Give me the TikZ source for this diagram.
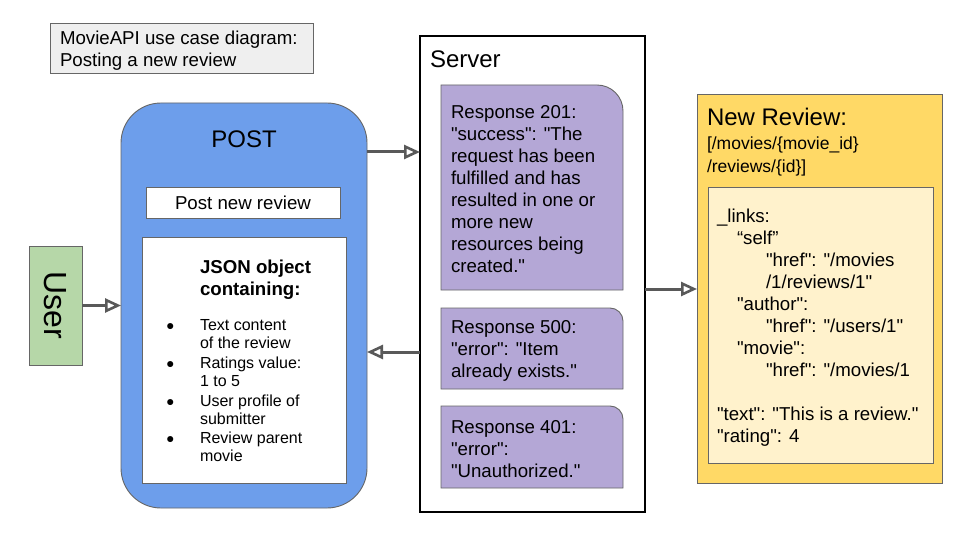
\documentclass[tikz,border=0pt]{standalone}
\usepackage{fontspec}
\setmainfont{Liberation Sans}[Ligatures=TeXOff]
\usetikzlibrary{arrows.meta}
\definecolor{titlefill}{HTML}{EFEFEF}
\definecolor{postblue}{HTML}{6D9EEB}
\definecolor{usergreen}{HTML}{B6D7A8}
\definecolor{resppurple}{HTML}{B4A7D6}
\definecolor{revyellow}{HTML}{FFD966}
\definecolor{revlight}{HTML}{FFF2CC}
\definecolor{edgegray}{HTML}{595959}
\definecolor{bordergray}{HTML}{666666}
\newcommand{\blt}{\makebox[34pt][l]{\raisebox{0pt}{\fontsize{14}{14}\selectfont ●}}}
\begin{document}
\begin{tikzpicture}[x=1pt,y=-1pt,
  box/.style={draw=bordergray, line width=0.9pt, inner sep=0pt, outer sep=0pt, anchor=north west},
  blank/.style={inner sep=0pt, outer sep=0pt, anchor=north west},
  txt/.style={inner sep=0pt, outer sep=0pt, anchor=base west, align=left},
  conn/.style={draw=edgegray, line width=3pt, -{Triangle[length=16pt,width=14pt,fill=white,line width=2.6pt]}},
  respfill/.style={draw=bordergray, line width=0.9pt, fill=resppurple},
  fbody/.style={font=\fontsize{18.67}{22}\selectfont},
  fbig/.style={font=\fontsize{24}{28}\selectfont},
  flist/.style={font=\fontsize{16}{18}\selectfont}
]
\useasboundingbox[fill=white] (0,0) rectangle (960,540);

% title (multi-line text nodes are placed by the baseline of their last line)
\node[box, fill=titlefill, minimum width=263pt, minimum height=50pt] (title) at (50,23) {};
\node[txt, fbody] (titletext) at (60,67) {MovieAPI use case diagram:\\Posting a new review};

% user
\node[box, fill=usergreen, minimum width=53pt, minimum height=119pt] (user) at (29,246) {};
\node[rotate=-90, inner sep=0pt, font=\fontsize{32}{36}\selectfont] (usertext) at (user.center) {User};

% POST
\node[box, fill=postblue, rounded corners=40pt, minimum width=246pt, minimum height=405pt] (post) at (121,103) {};
\node[inner sep=0pt, anchor=base, fbig] (posttext) at (244,148) {POST};
\node[box, fill=white, minimum width=194pt, minimum height=31pt, fbody] (postnew) at (146,187) {Post new review};
\node[box, fill=white, minimum width=204pt, minimum height=246pt] (json) at (142,237) {};
\node[txt, font=\fontsize{18.67}{22}\selectfont\bfseries] (jsonhead) at (200,295) {JSON object\\containing:};
\node[txt, flist] (jsonlist) at (166,461) {%
\blt Text content\\\hspace*{34pt}of the review\\[2pt]
\blt Ratings value:\\\hspace*{34pt}1 to 5\\[2pt]
\blt User profile of\\\hspace*{34pt}submitter\\[1pt]
\blt Review parent\\\hspace*{34pt}movie};

% Server
\node[draw=black, line width=1.3pt, fill=white, blank, minimum width=225pt, minimum height=476pt] (server) at (420,36) {};
\node[txt, fbig] (servertext) at (430,68) {Server};

\node[blank, minimum width=182pt, minimum height=205pt] (r201) at (441,85) {};
\path[respfill] (r201.south west) -- (r201.north west) -- ([xshift=-26pt]r201.north east)
  .. controls ([xshift=-11.6pt]r201.north east) and ([yshift=-11.6pt]r201.north east) .. ([yshift=-26pt]r201.north east)
  -- (r201.south east) -- cycle;
\node[txt, fbody] (r201text) at (451,272) {Response 201:\\"success": "The\\request has been\\fulfilled and has\\resulted in one or\\more new\\resources being\\created."};

\node[blank, minimum width=182pt, minimum height=81pt] (r500) at (441,308) {};
\path[respfill] (r500.south west) -- (r500.north west) -- ([xshift=-13pt]r500.north east)
  .. controls ([xshift=-5.8pt]r500.north east) and ([yshift=-5.8pt]r500.north east) .. ([yshift=-13pt]r500.north east)
  -- (r500.south east) -- cycle;
\node[txt, fbody] (r500text) at (451,377) {Response 500:\\"error": "Item\\already exists."};

\node[blank, minimum width=182pt, minimum height=82pt] (r401) at (441,406) {};
\path[respfill] (r401.south west) -- (r401.north west) -- ([xshift=-13pt]r401.north east)
  .. controls ([xshift=-5.8pt]r401.north east) and ([yshift=-5.8pt]r401.north east) .. ([yshift=-13pt]r401.north east)
  -- (r401.south east) -- cycle;
\node[txt, fbody] (r401text) at (451,477) {Response 401:\\"error":\\"Unauthorized."};

% New review
\node[box, fill=revyellow, minimum width=245pt, minimum height=389pt] (review) at (697,94) {};
\node[txt, fbig] (reviewtitle) at (707,126) {New Review:};
\node[txt, font=\fontsize{17.5}{23}\selectfont] (reviewpath) at (707,173) {[/movies/\{movie\_id\}\\/reviews/\{id\}]};
\node[box, fill=revlight, minimum width=225pt, minimum height=276pt] (reviewbody) at (708,187) {};
\node[txt, fbody] (reviewtext) at (717,442) {%
\_links:\\
\hspace*{20pt}“self”\\
\hspace*{49pt}"href": "/movies\\
\hspace*{49pt}/1/reviews/1"\\
\hspace*{20pt}"author":\\
\hspace*{49pt}"href": "/users/1"\\
\hspace*{20pt}"movie":\\
\hspace*{49pt}"href": "/movies/1\\
\mbox{}\\
"text": "This is a review."\\
"rating": 4};

% connectors
\coordinate (c1) at (0,152);
\coordinate (c2) at (0,352);
\coordinate (c3) at (0,289);
\draw[conn] (user.east) -- (user.east -| post.west);
\draw[conn] (c1 -| post.east) -- (c1 -| server.west);
\draw[conn] (c2 -| server.west) -- (c2 -| post.east);
\draw[conn] (c3 -| server.east) -- (c3 -| review.west);
\end{tikzpicture}
\end{document}
